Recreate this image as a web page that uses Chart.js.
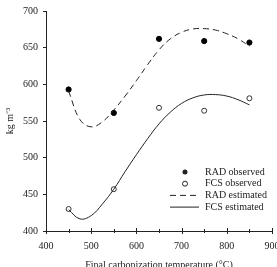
<!DOCTYPE html>
<html>
<head>
<meta charset="utf-8">
<script src="https://cdn.jsdelivr.net/npm/chart.js@4"></script>
<style>
  html, body { margin: 0; padding: 0; background: #fff; }
  #wrap { width: 277px; height: 267px; overflow: hidden; }
</style>
</head>
<body>
<div id="wrap"><canvas id="densityChart" width="290" height="275"></canvas></div>
<script>
// Observed points (final carbonization temperature, kg m-3)
const temps = [450, 550, 650, 750, 850];
const radObserved = [593, 561, 662, 659, 657];
const fcsObserved = [430, 457, 568, 564, 581];

// Fitted curves, every 25 degrees
const estTemps = [450, 475, 500, 525, 550, 575, 600, 625, 650, 675, 700, 725, 750, 775, 800, 825, 850];
const radEstimated = [591, 552, 542, 549, 565, 584, 605, 627, 647, 662, 671, 675.5, 676, 674, 669, 662, 652];
const fcsEstimated = [429, 416.5, 421, 437, 457, 481, 504, 526, 546, 562, 574, 581.5, 585.5, 586, 584, 579, 572];

const xTicks = [400, 500, 600, 700, 800, 900];
const yTicks = [400, 450, 500, 550, 600, 650, 700];

const ink = "#222";
const serif = "'Liberation Serif', 'Times New Roman', serif";

function pairs(xs, ys) {
  return xs.map((x, i) => ({ x: x, y: ys[i] }));
}

// x axis ticks cross the axis line, with minor ticks in between
const axisTicks = {
  id: "axisTicks",
  afterDraw(chart) {
    const ctx = chart.ctx;
    const xs = chart.scales.x;
    const y0 = chart.chartArea.bottom;
    ctx.save();
    ctx.strokeStyle = ink;
    ctx.lineWidth = 1;
    for (let v = 400; v <= 900; v += 50) {
      const px = Math.round(xs.getPixelForValue(v)) + 0.5;
      const len = v % 100 === 0 ? 3 : 2;
      ctx.beginPath();
      ctx.moveTo(px, y0 - len);
      ctx.lineTo(px, y0 + len);
      ctx.stroke();
    }
    ctx.restore();
  },
};

// legend sits inside the plot, lower right
const boxLegend = {
  id: "boxLegend",
  afterDraw(chart) {
    const ctx = chart.ctx;
    const rows = [
      { text: "RAD observed", kind: "filled" },
      { text: "FCS observed", kind: "open" },
      { text: "RAD estimated", kind: "dash" },
      { text: "FCS estimated", kind: "solid" },
    ];
    ctx.save();
    ctx.font = "10px " + serif;
    ctx.textBaseline = "middle";
    ctx.fillStyle = ink;
    ctx.strokeStyle = ink;
    rows.forEach((r, i) => {
      const y = 172 + i * 11.7;
      ctx.lineWidth = 1;
      if (r.kind === "filled" || r.kind === "open") {
        ctx.beginPath();
        ctx.arc(185, y, 2.5, 0, Math.PI * 2);
        if (r.kind === "filled") ctx.fill();
        else { ctx.fillStyle = "#fff"; ctx.fill(); ctx.stroke(); ctx.fillStyle = ink; }
      } else {
        ctx.setLineDash(r.kind === "dash" ? [6, 4] : []);
        ctx.beginPath();
        ctx.moveTo(170, y);
        ctx.lineTo(199, y);
        ctx.stroke();
        ctx.setLineDash([]);
      }
      ctx.fillText(r.text, 205, y);
    });
    ctx.restore();
  },
};

const ctx = document.getElementById("densityChart").getContext("2d");
new Chart(ctx, {
  type: "line",
  data: {
    datasets: [
      {
        label: "RAD estimated",
        data: pairs(estTemps, radEstimated),
        borderColor: ink,
        borderWidth: 1,
        borderDash: [6, 4],
        pointRadius: 0,
        tension: 0.4,
        fill: false,
      },
      {
        label: "FCS estimated",
        data: pairs(estTemps, fcsEstimated),
        borderColor: ink,
        borderWidth: 1,
        pointRadius: 0,
        tension: 0.4,
        fill: false,
      },
      {
        label: "RAD observed",
        data: pairs(temps, radObserved),
        showLine: false,
        pointRadius: 2.6,
        pointBackgroundColor: "#000",
        pointBorderColor: "#000",
        pointBorderWidth: 1,
      },
      {
        label: "FCS observed",
        data: pairs(temps, fcsObserved),
        showLine: false,
        pointRadius: 2.5,
        pointBackgroundColor: "#fff",
        pointBorderColor: "#333",
        pointBorderWidth: 1,
      },
    ],
  },
  options: {
    responsive: false,
    animation: false,
    layout: { padding: { top: 8, right: 18, bottom: 0, left: 0 } },
    plugins: {
      legend: { display: false },
      tooltip: { enabled: false },
    },
    scales: {
      x: {
        type: "linear",
        min: 400,
        max: 900,
        afterBuildTicks: (s) => { s.ticks = xTicks.map((v) => ({ value: v })); },
        afterFit: (s) => { s.height = 44; },
        grid: { display: true, drawOnChartArea: false, drawTicks: false },
        border: { display: true, color: ink, width: 1 },
        ticks: { color: ink, font: { family: serif, size: 10 }, padding: 9, maxRotation: 0 },
        title: {
          display: true,
          text: "Final carbonization temperature (°C)",
          color: ink,
          font: { family: serif, size: 10 },
          padding: { top: 0, bottom: 4 },
        },
      },
      y: {
        min: 400,
        max: 700,
        afterBuildTicks: (s) => { s.ticks = yTicks.map((v) => ({ value: v })); },
        afterFit: (s) => { s.width = 46; },
        grid: { drawOnChartArea: false, tickLength: 3, color: ink },
        border: { display: true, color: ink, width: 1 },
        ticks: { color: ink, font: { family: serif, size: 10 }, padding: 5 },
        title: {
          display: true,
          text: "kg m⁻³",
          color: ink,
          font: { family: serif, size: 10 },
          padding: { top: 4, bottom: 0 },
        },
      },
    },
  },
  plugins: [axisTicks, boxLegend],
});
</script>
</body>
</html>
